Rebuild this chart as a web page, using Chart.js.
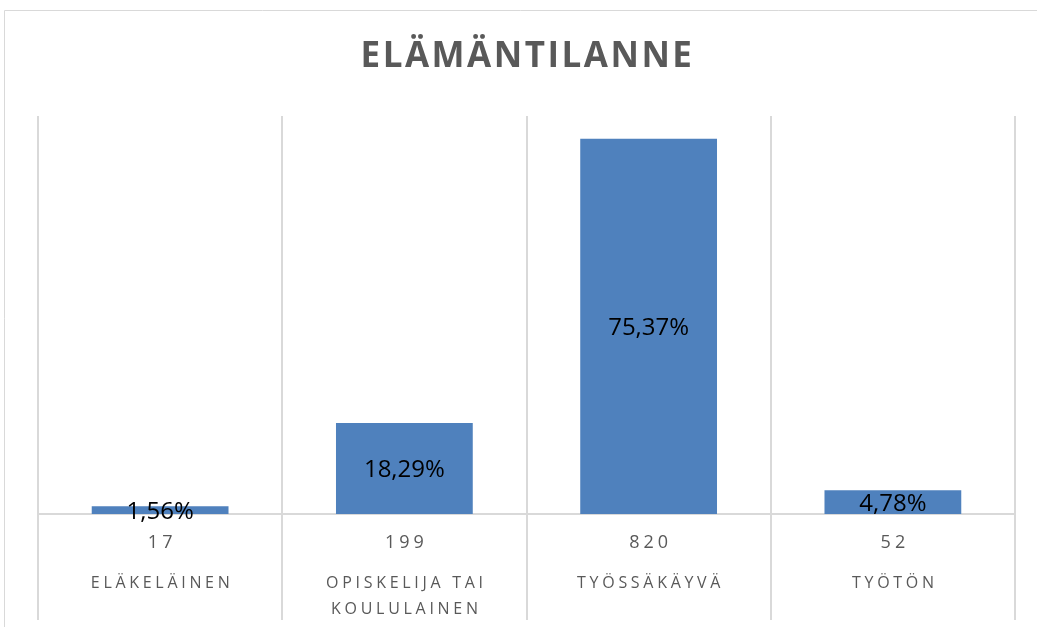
<!DOCTYPE html>
<html>
<head>
<meta charset="utf-8">
<script src="https://cdn.jsdelivr.net/npm/chart.js@4/dist/chart.umd.min.js"></script>
<style>
  html, body { margin: 0; padding: 0; background: #fff; }
  #wrap { width: 1037px; height: 627px; }
</style>
</head>
<body>
<div id="wrap"><canvas id="chart" width="1037" height="627"></canvas></div>
<script>
// data
var titleText = 'ELÄMÄNTILANNE';
var categories = [['ELÄKELÄINEN'], ['OPISKELIJA TAI', 'KOULULAINEN'], ['TYÖSSÄKÄYVÄ'], ['TYÖTÖN']];
var counts = [17, 199, 820, 52];
var percentLabels = ['1,56%', '18,29%', '75,37%', '4,78%'];
var yMax = 870;

var grey = '#595959';
var lineGrey = '#d9d9d9';

// frame, title, data labels and the two-row category axis
var textPlugin = {
  id: 'textPlugin',
  beforeDraw: function (chart) {
    var ctx = chart.ctx;
    ctx.save();
    ctx.strokeStyle = lineGrey;
    ctx.lineWidth = 1;
    ctx.beginPath();
    ctx.moveTo(4.5, 627);
    ctx.lineTo(4.5, 10.5);
    ctx.lineTo(1037, 10.5);
    ctx.stroke();
    ctx.restore();
  },
  afterDraw: function (chart) {
    var ctx = chart.ctx;
    var xs = chart.scales.x;
    var area = chart.chartArea;
    ctx.save();

    // title
    ctx.fillStyle = grey;
    ctx.font = 'bold 35px "Open Sans"';
    ctx.letterSpacing = '2.5px';
    ctx.textAlign = 'center';
    ctx.textBaseline = 'middle';
    ctx.fillText(titleText, (area.left + area.right) / 2 + 1, 57);

    // percent labels centred in bars
    var meta = chart.getDatasetMeta(0);
    ctx.fillStyle = '#000';
    ctx.font = '24px "Open Sans"';
    ctx.letterSpacing = '0px';
    meta.data.forEach(function (bar, i) {
      var cy = (bar.y + bar.base) / 2 + 2;
      ctx.fillText(percentLabels[i], bar.x, cy);
    });

    // counts and category names under the axis
    ctx.fillStyle = grey;
    categories.forEach(function (lines, i) {
      var x = xs.getPixelForValue(i) + 2;
      ctx.font = '18px "Open Sans"';
      ctx.letterSpacing = '4px';
      ctx.fillText(String(counts[i]), x, 543);
      ctx.font = '16px "Open Sans"';
      ctx.letterSpacing = '3.7px';
      lines.forEach(function (t, j) {
        ctx.fillText(t, x, 583 + j * 26);
      });
    });
    ctx.restore();
  }
};

new Chart(document.getElementById('chart'), {
  type: 'bar',
  data: {
    labels: categories.map(function (c) { return c.join(' '); }),
    datasets: [{
      data: counts,
      backgroundColor: '#4f81bd',
      categoryPercentage: 1,
      barPercentage: 0.56
    }]
  },
  options: {
    responsive: false,
    animation: false,
    layout: { padding: { left: 38, right: 22, top: 116, bottom: 7 } },
    plugins: { legend: { display: false }, tooltip: { enabled: false } },
    scales: {
      x: {
        grid: { color: lineGrey, lineWidth: 2, offset: true, tickLength: 106 },
        border: { color: lineGrey, width: 2 },
        ticks: { display: false }
      },
      y: {
        display: false,
        min: 0,
        max: yMax
      }
    }
  },
  plugins: [textPlugin]
});
</script>
</body>
</html>
